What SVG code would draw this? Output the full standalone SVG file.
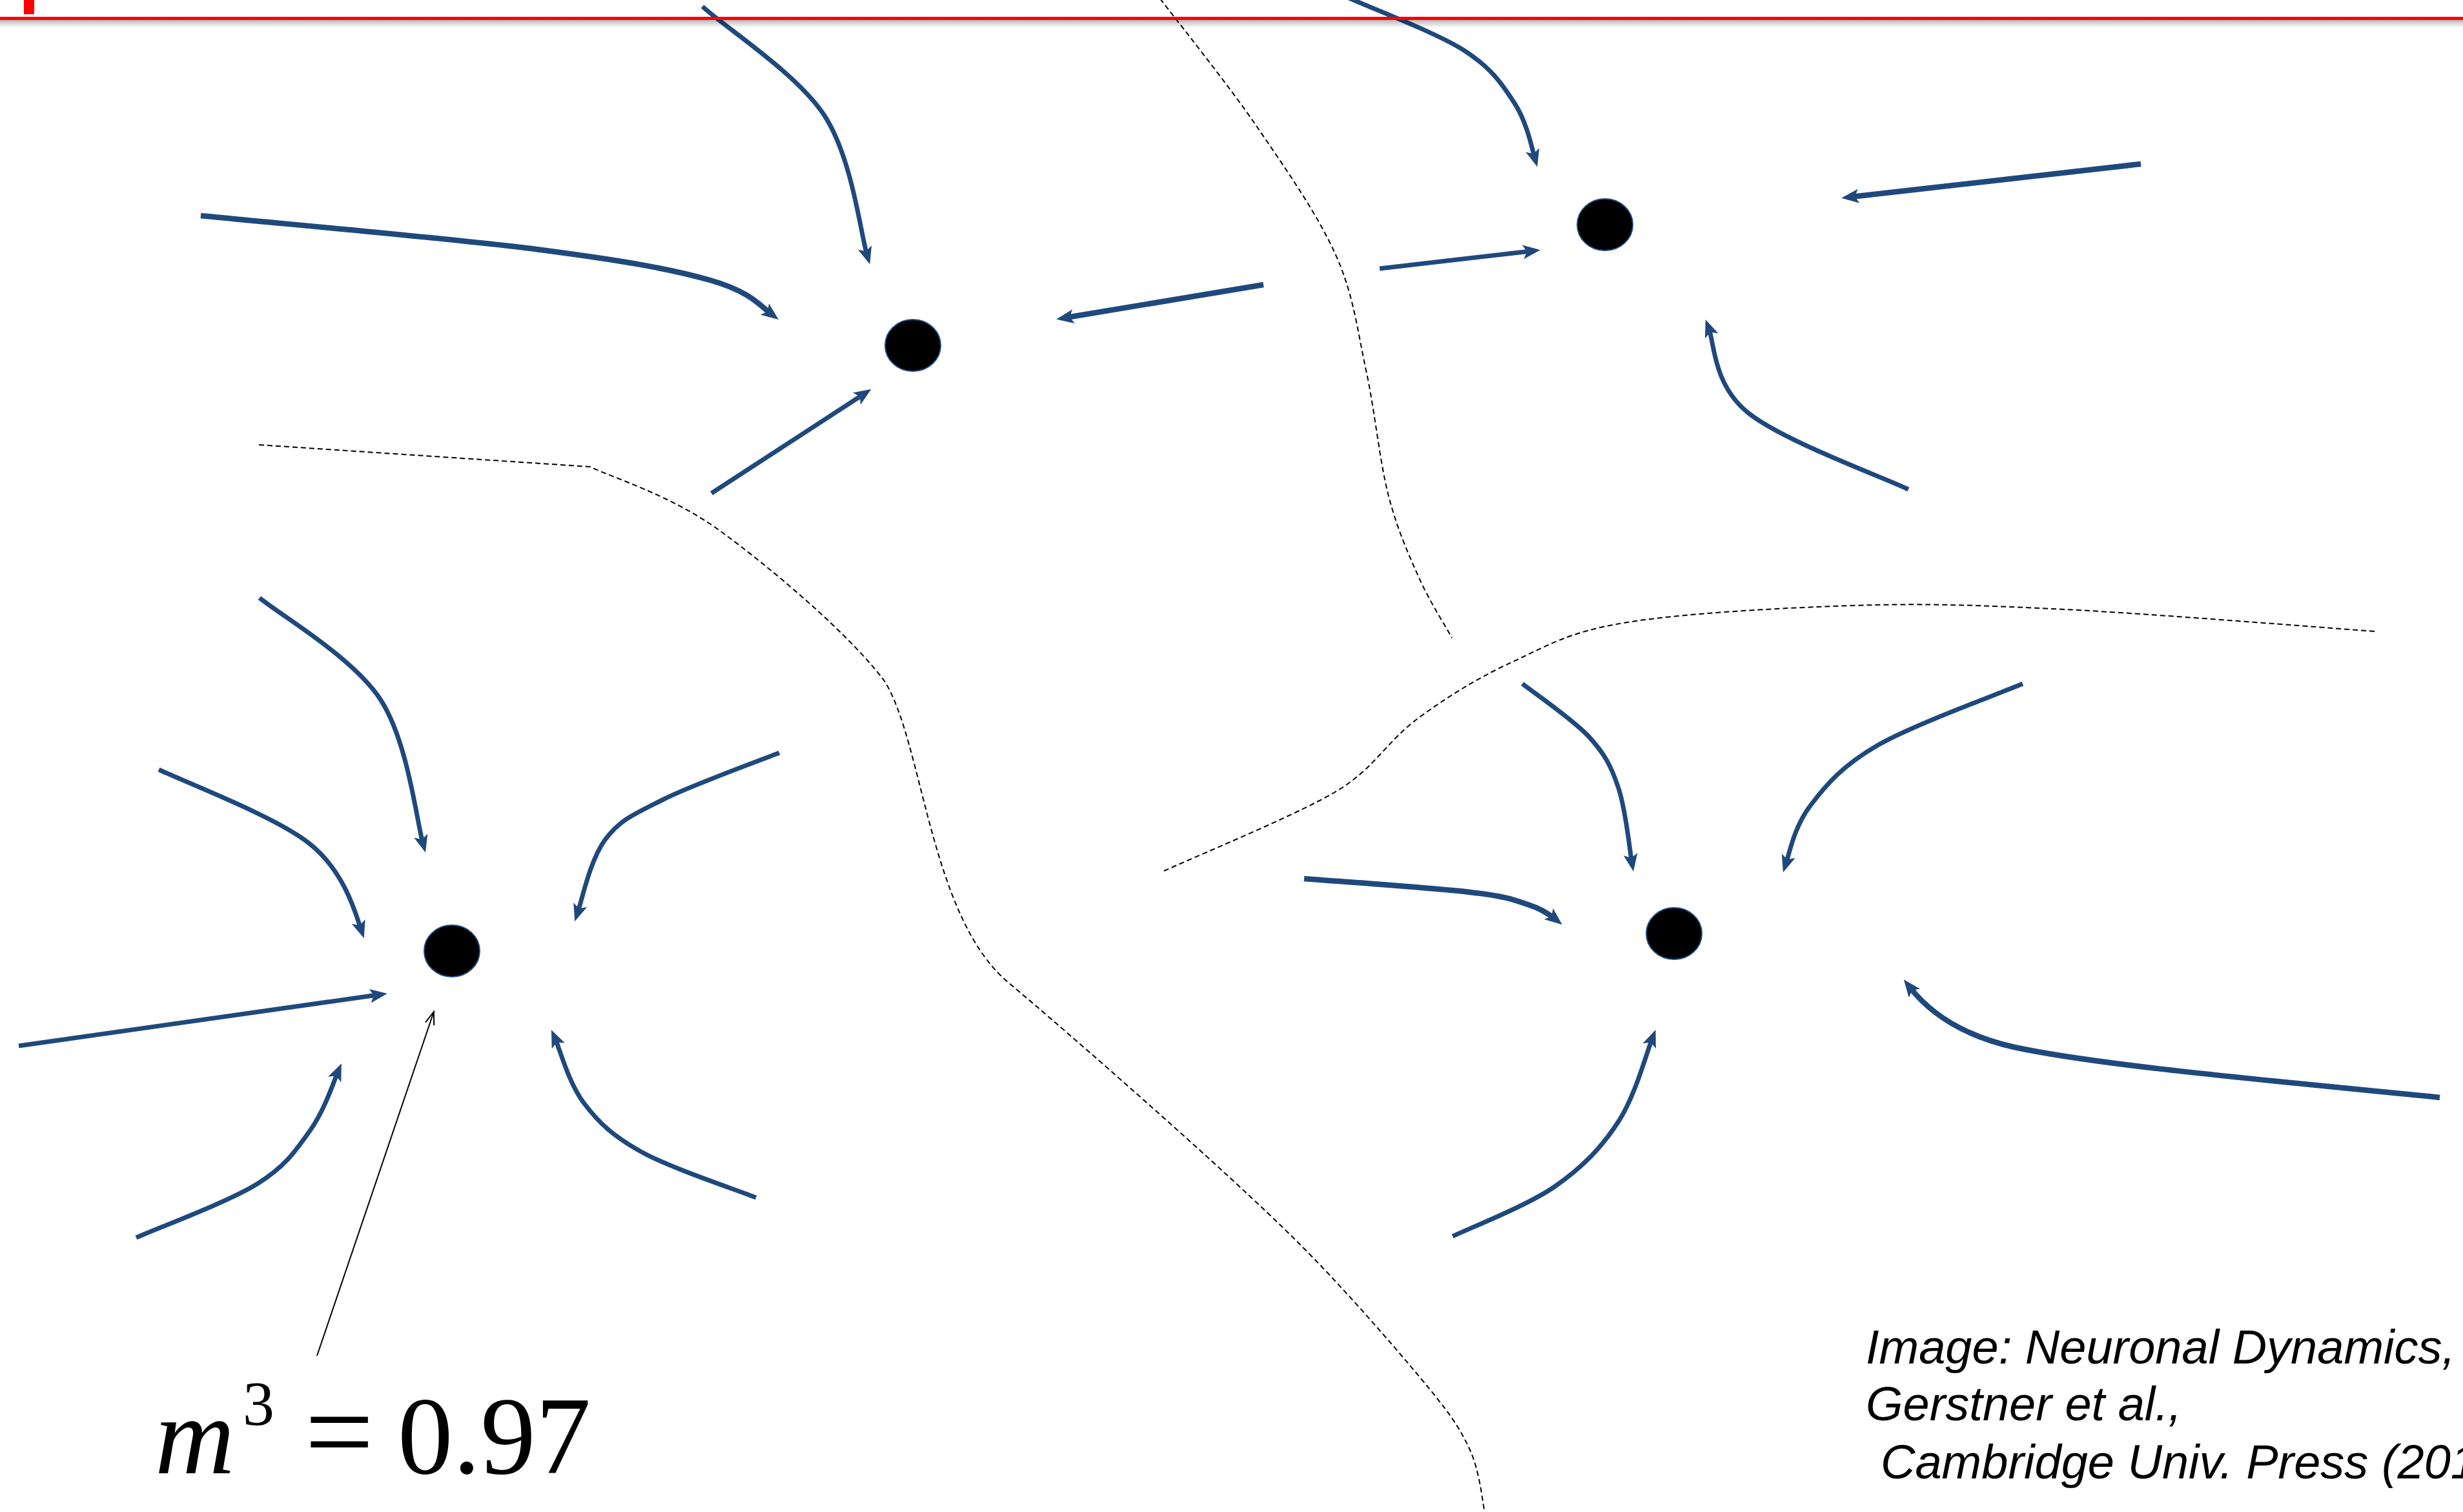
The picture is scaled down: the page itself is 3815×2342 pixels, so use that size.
<svg xmlns="http://www.w3.org/2000/svg" width="3815" height="2342" viewBox="0 0 3815 2342">
<style>
.c{fill:none;stroke:#1F497D;stroke-width:7;stroke-linecap:butt;marker-end:url(#ah)}
.ck{stroke-width:8.5}
.d{fill:none;stroke:#000;stroke-width:2;stroke-dasharray:8 5}
.n{fill:#000;stroke:#1F497D;stroke-width:2}
.cite{font-family:'Liberation Sans',Arial,sans-serif;font-style:italic;font-size:74px;fill:#000}
.f{font-family:'Liberation Serif','Times New Roman',serif;font-size:171px;fill:#000}
</style>
<defs>
<marker id="ah" markerUnits="userSpaceOnUse" markerWidth="28" markerHeight="24" viewBox="0 0 28 24" refX="12" refY="12" orient="auto">
<path d="M0,1 L27,12 L0,23 L6,12 Z" fill="#1F497D"/>
</marker>
<marker id="oa" markerUnits="userSpaceOnUse" markerWidth="24" markerHeight="20" viewBox="0 0 24 20" refX="22" refY="10" orient="auto">
<path d="M2,3 L22,10 L2,17" fill="none" stroke="#000" stroke-width="2"/>
</marker>
<linearGradient id="sh" x1="0" y1="0" x2="0" y2="1">
<stop offset="0" stop-color="#000" stop-opacity="0.28"/>
<stop offset="1" stop-color="#000" stop-opacity="0"/>
</linearGradient>
</defs>
<rect width="3815" height="2342" fill="#fff"/>

<g id="boundaries">
<path class="d" d="M401,689 L914,723 C947.5,739.5 1039,766.7 1115,822 C1191,877.3 1314.7,980.8 1370,1055 C1430,1150 1440,1420 1562,1522 C1654,1599 1902,1816 2008,1922 C2072,1985 2154.3,2079.3 2199,2133 C2243.7,2186.7 2259,2207.8 2276,2244 C2293,2280.2 2296.8,2332.3 2301,2350"/>
<path class="d" d="M1797,-2 C1821.8,30.8 1900.7,128.8 1946,195 C1991.3,261.2 2040.7,331.8 2069,395 C2097.3,458.2 2102.5,512.3 2116,574 C2129.5,635.7 2136.5,711.8 2150,765 C2163.5,818.2 2180.5,855.8 2197,893 C2213.5,930.2 2240.3,972.2 2249,988"/>
<path class="d" d="M1803,1349 C1846.8,1328.8 2002.3,1264.8 2066,1228 C2129.7,1191.2 2145,1150 2200,1110 C2255,1070 2300,1045 2343,1025 C2397.8,1000 2426.3,980 2514,965 C2601.7,950 2754.8,941.8 2869,938 C2983.2,934.2 3064,937.3 3199,944 C3334,950.7 3599,972.3 3679,978"/>
</g>

<g id="connectors">
<path class="c" d="M1088,10 C1121,41 1234,113 1277,179 C1320,245 1333,362 1343,395"/>
<path class="c ck" d="M311,334 C397,343 698,369 830,386 C961,403 1037,416 1100,434 C1163,452 1178,474 1194,486"/>
<path class="c ck" d="M1957,441 L1651,492"/>
<path class="c" d="M1102,764 L1337,611"/>

<path class="c" d="M2085,-5 C2115,9 2222.5,49.5 2266,77 C2309.5,104.5 2326.7,130 2346,160 C2365.3,190 2373,230 2377,244"/>
<path class="c" d="M2137,416 L2371,389"/>
<path class="c ck" d="M3316,254 L2867,305"/>
<path class="c" d="M2956,758 C2914,738 2758.5,681.7 2706,638 C2653.5,594.3 2655,530 2647,509"/>

<path class="c" d="M402,926 C433,952 546,1017.5 589,1083 C631.8,1148.5 645,1270 655,1306"/>
<path class="c" d="M246,1192 C285,1211 428,1264.7 481,1308 C534,1351.3 551,1415 559,1439"/>
<path class="c" d="M29,1620 L585,1541"/>
<path class="c" d="M211,1917 C242,1903 353,1862 398,1834 C443,1806.2 459,1781 481,1750 C503,1719 517,1675 523,1661"/>
<path class="c" d="M1171,1855 C1141.7,1843.3 1039.5,1809.5 995,1785 C950.5,1760.5 927.5,1739.5 904,1708 C880.5,1676.5 867,1625 860,1609"/>
<path class="c" d="M1207,1166 C1177,1178 1073,1215.5 1028,1238 C983,1260.5 960,1269.7 937,1301 C914,1332.3 901,1395 895,1413"/>
<path d="M491,2100 L672,1567" fill="none" stroke="#000" stroke-width="2" marker-end="url(#oa)"/>

<path class="c" d="M2358,1059 C2375.2,1072.7 2436,1114 2461,1141 C2485.8,1168 2495.5,1186.3 2507,1221 C2518.5,1255.7 2524,1315 2527.5,1335"/>
<path class="c" d="M3133,1059 C3095.7,1074.8 2963.8,1122.5 2909,1154 C2854.2,1185.5 2828.7,1215.3 2804,1248 C2779.3,1280.7 2772,1320 2766.5,1337"/>
<path class="c ck" d="M2020,1361 C2062.8,1364.5 2218.8,1375.2 2277,1382 C2335.2,1388.8 2345.2,1394 2369,1402 C2385,1407 2398,1415 2408,1423"/>
<path class="c" d="M2250,1915 C2276.3,1902.2 2365.2,1867.7 2408,1838 C2450.8,1808.3 2481,1777.3 2507,1737 C2533,1696.7 2550,1632 2559,1609"/>
<path class="c ck" d="M3779,1700 C3500,1672 3250,1650 3120,1622 C3040,1604 2990,1570 2958,1529"/>
</g>

<g id="header">
<rect x="0" y="31" width="3815" height="12" fill="url(#sh)"/>
<rect x="0" y="26" width="3815" height="5" fill="#FF0000"/>
<rect x="37" y="0" width="16" height="22" fill="#FF0000"/>
</g>

<g id="node-a"><ellipse class="n" cx="1414" cy="535" rx="43" ry="40"/></g>
<g id="node-b"><ellipse class="n" cx="2486" cy="348" rx="43" ry="40"/></g>
<g id="node-c"><ellipse class="n" cx="700" cy="1473" rx="43" ry="40"/></g>
<g id="node-d"><ellipse class="n" cx="2593" cy="1446" rx="43" ry="40"/></g>

<g id="formula">
<text class="f"><tspan x="240" y="2282" font-style="italic">m</tspan><tspan x="376" y="2207" font-size="98">3</tspan><tspan x="472" y="2282" font-size="190">=</tspan><tspan x="616" y="2282">0.97</tspan></text>
</g>

<g id="citation">
<text class="cite" x="2890" y="2112">Image: Neuronal Dynamics,</text>
<text class="cite" x="2890" y="2200">Gerstner et al.,</text>
<text class="cite" x="2913" y="2290">Cambridge Univ. Press (2014)</text>
</g>
</svg>
